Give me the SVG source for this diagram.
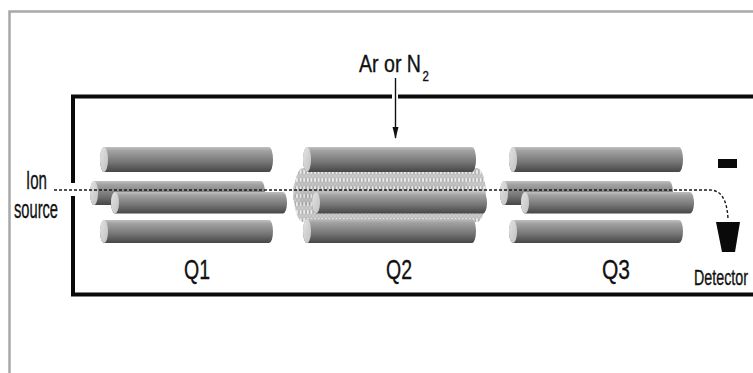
<svg xmlns="http://www.w3.org/2000/svg" width="753" height="373" viewBox="0 0 753 373">
  <style>
    .lbl { font-family: "Liberation Sans", Arial, sans-serif; fill: #111; stroke: #111; stroke-width: 0.35; }
    .body { fill: url(#rodBody); }
    .cap { fill: url(#rodCap); }
    .frame { fill: none; stroke: #0a0a0a; stroke-width: 4; }
    .path { fill: none; stroke: #1a1a1a; stroke-width: 1.4; stroke-dasharray: 3 2; }
  </style>
  <defs>
    <linearGradient id="rodBody" x1="0" y1="0" x2="0" y2="1">
      <stop offset="0" stop-color="#c0c0c0"/>
      <stop offset="0.15" stop-color="#a2a2a2"/>
      <stop offset="0.6" stop-color="#767676"/>
      <stop offset="1" stop-color="#464646"/>
    </linearGradient>
    <linearGradient id="rodCap" x1="0" y1="0" x2="1" y2="1">
      <stop offset="0" stop-color="#e2e2e2"/>
      <stop offset="1" stop-color="#c2c2c2"/>
    </linearGradient>
    <pattern id="gas" width="3.6" height="8" patternUnits="userSpaceOnUse">
      <rect width="3.6" height="8" fill="#c6c6c6"/>
      <ellipse cx="1.8" cy="4" rx="1.4" ry="3.2" fill="#eeeeee" stroke="#8a8a8a" stroke-width="0.6"/>
    </pattern>
    <marker id="arrowHead" markerWidth="12" markerHeight="8" refX="11" refY="4" orient="auto" markerUnits="userSpaceOnUse" viewBox="0 0 12 8">
      <path d="M0,1 L12,4 L0,7 Z" fill="#111"/>
    </marker>
  </defs>

  <rect width="753" height="373" fill="#ffffff"/>

  <!-- outer border -->
  <path d="M9.5,373 V11.5 H753" fill="none" stroke="#a8a8a8" stroke-width="2.5"/>

  <!-- instrument housing, open where the beam and the gas inlet pass -->
  <g id="housing">
    <path class="frame" d="M73,183 V96.5 H392"/>
    <path class="frame" d="M398,96.5 H755"/>
    <path class="frame" d="M73,196 V294.5 H755"/>
  </g>

  <!-- Q1 quadrupole -->
  <g id="q1">
    <rect class="body" x="90" y="181" width="175" height="24" rx="4" ry="12"/>
    <ellipse class="cap" cx="94" cy="193" rx="4" ry="12"/>
    <rect class="body" x="100" y="147" width="173" height="25" rx="4" ry="12.5"/>
    <ellipse class="cap" cx="104" cy="159.5" rx="4" ry="12.5"/>
    <rect class="body" x="100" y="220" width="173" height="23" rx="4" ry="11.5"/>
    <ellipse class="cap" cx="104" cy="231.5" rx="4" ry="11.5"/>
    <rect class="body" x="111" y="192" width="176" height="21.5" rx="4" ry="10.75"/>
    <ellipse class="cap" cx="115" cy="202.75" rx="4" ry="10.75"/>
    <text class="lbl" font-size="27" transform="translate(184,279) scale(0.722,1)">Q1</text>
  </g>

  <!-- Q2 collision cell with gas -->
  <g id="q2">
    <rect class="body" x="293" y="181" width="175" height="24" rx="4" ry="12"/>
    <ellipse class="cap" cx="297" cy="193" rx="4" ry="12"/>
    <rect x="294" y="168" width="192" height="54" rx="9" ry="27" fill="url(#gas)" opacity="0.92"/>
    <rect class="body" x="303" y="147" width="173" height="25" rx="4" ry="12.5"/>
    <ellipse class="cap" cx="307" cy="159.5" rx="4" ry="12.5"/>
    <rect class="body" x="303" y="219" width="173" height="24" rx="4" ry="12"/>
    <ellipse class="cap" cx="307" cy="231" rx="4" ry="12"/>
    <rect class="body" x="312" y="192" width="175" height="21.5" rx="4" ry="10.75"/>
    <ellipse class="cap" cx="316" cy="202.75" rx="4" ry="10.75"/>
    <text class="lbl" font-size="27" transform="translate(386,279) scale(0.722,1)">Q2</text>
  </g>

  <!-- Q3 quadrupole -->
  <g id="q3">
    <rect class="body" x="500" y="181" width="173" height="24" rx="4" ry="12"/>
    <ellipse class="cap" cx="504" cy="193" rx="4" ry="12"/>
    <rect class="body" x="509" y="147" width="174" height="25" rx="4" ry="12.5"/>
    <ellipse class="cap" cx="513" cy="159.5" rx="4" ry="12.5"/>
    <rect class="body" x="509" y="220" width="174" height="23" rx="4" ry="11.5"/>
    <ellipse class="cap" cx="513" cy="231.5" rx="4" ry="11.5"/>
    <rect class="body" x="521" y="192" width="173" height="21.5" rx="4" ry="10.75"/>
    <ellipse class="cap" cx="525" cy="202.75" rx="4" ry="10.75"/>
    <text class="lbl" font-size="27" transform="translate(602,279) scale(0.778,1)">Q3</text>
  </g>

  <!-- detector and its negative plate -->
  <g id="detector">
    <rect x="718" y="159" width="19" height="9" fill="#0a0a0a"/>
    <polygon points="716,222 740,222 735,252 722,252" fill="#0a0a0a"/>
    <text class="lbl" font-size="22" transform="translate(694,285) scale(0.65,1)">Detector</text>
  </g>

  <!-- ion source label -->
  <g id="ion-source">
    <text class="lbl" font-size="25" transform="translate(26,189) scale(0.604,1)">Ion</text>
    <text class="lbl" font-size="25" transform="translate(14,218) scale(0.587,1)">source</text>
  </g>

  <!-- gas inlet label -->
  <g id="gas-inlet">
    <text class="lbl" font-size="24" transform="translate(359,72) scale(0.816,1)">Ar or N<tspan font-size="14" dx="2" dy="9">2</tspan></text>
  </g>

  <!-- connectors: ion path and gas feed -->
  <g id="connectors">
    <path class="path" d="M54,190 H710 C720,190 727,198 728,219"/>
    <line x1="395.5" y1="78" x2="395.5" y2="138" stroke="#111" stroke-width="1.4" marker-end="url(#arrowHead)"/>
  </g>
</svg>
